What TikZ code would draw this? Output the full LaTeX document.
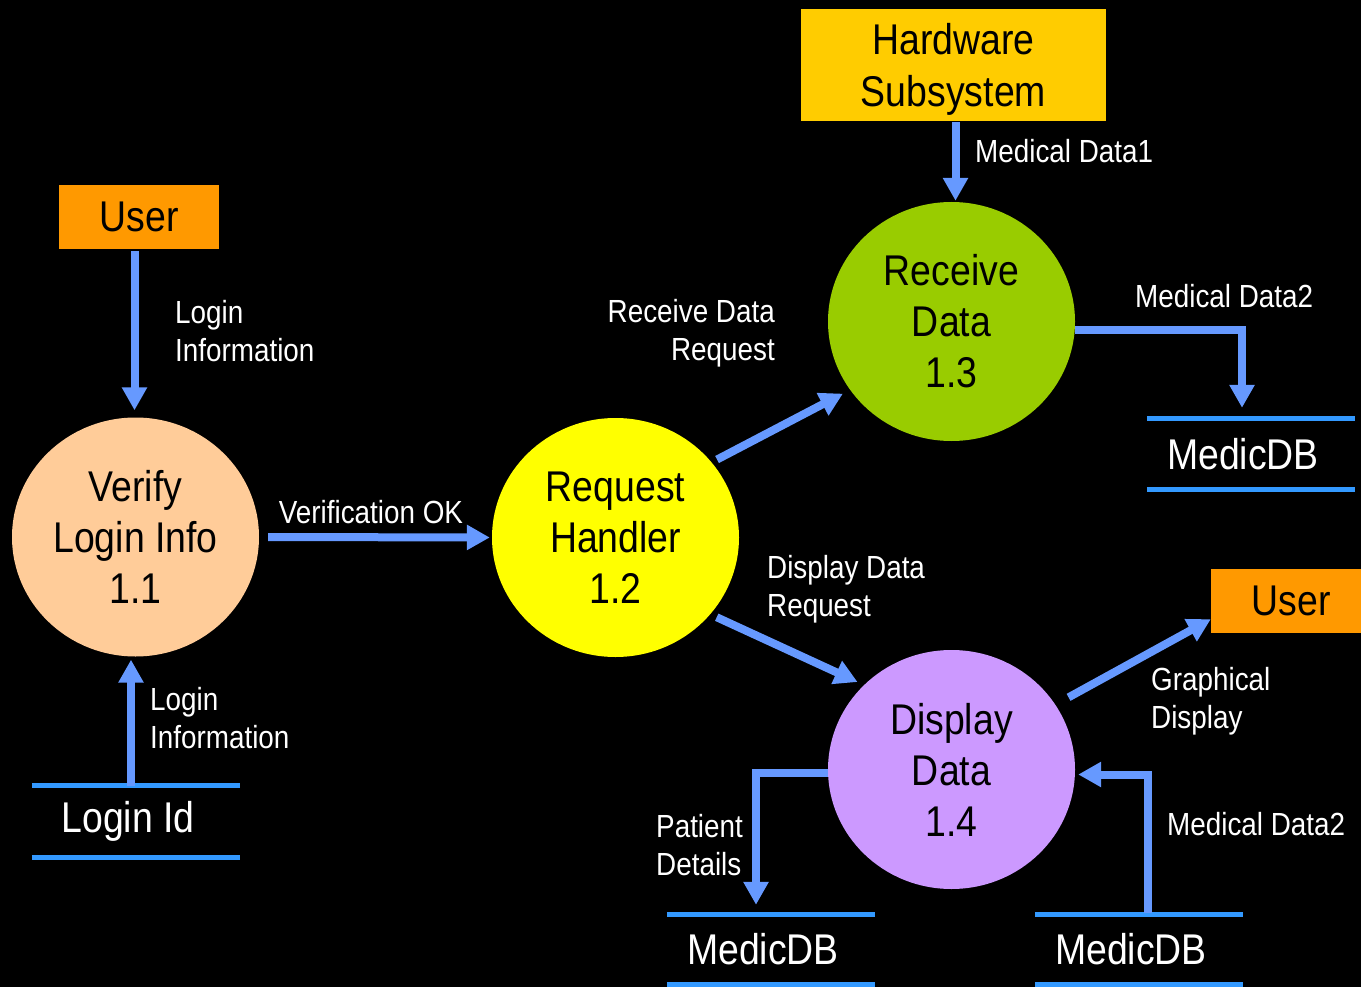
\documentclass[tikz,border=0pt]{standalone}
\usepackage{fontspec}
\setmainfont{Liberation Sans}[FakeStretch=0.87]
\usetikzlibrary{arrows.meta,shapes.geometric,calc}
\definecolor{flowblue}{HTML}{6699FF}
\definecolor{storeblue}{HTML}{3399FF}
\definecolor{peach}{HTML}{FFCC99}
\definecolor{lemon}{HTML}{FFFF00}
\definecolor{leaf}{HTML}{99CC00}
\definecolor{lilac}{HTML}{CC99FF}
\definecolor{extorange}{HTML}{FF9900}
\definecolor{extgold}{HTML}{FFCC00}
\begin{document}
\begin{tikzpicture}[x=1pt,y=-1pt,
  process/.style={ellipse,minimum width=247pt,minimum height=239pt,inner sep=0pt,
    align=center,text=black,font=\fontsize{43}{51}\selectfont},
  entity/.style={rectangle,inner sep=0pt,align=center,text=black,
    font=\fontsize{43}{52}\selectfont},
  store/.style={rectangle,inner sep=0pt,minimum width=208pt,text=white,
    font=\fontsize{43}{50}\selectfont,execute at end node={\hspace*{16pt}}},
  storeline/.style={draw=storeblue,line width=5pt},
  flow/.style={draw=flowblue,line width=8pt,-{Triangle[width=24pt,length=23pt]}},
  lbl/.style={inner sep=0pt,text=white,font=\fontsize{32}{38}\selectfont}]

% canvas
\fill[black] (0,0) rectangle (1361,987);
\useasboundingbox (0,0) rectangle (1361,987);

% external entities
\node[entity,fill=extorange,minimum width=160pt,minimum height=64pt] (user1) at (139,217) {User};
\node[entity,fill=extgold,minimum width=305pt,minimum height=112pt,text depth=0pt] (hw) at (953.5,65) {Hardware\\Subsystem};
\node[entity,fill=extorange,minimum width=160pt,minimum height=64pt] (user2) at (1291,601) {User};

% processes
\node[process,fill=peach] (v11) at (135.5,537) {Verify\\Login Info\\1.1};
\node[process,fill=lemon] (v12) at (615.5,537.5) {Request\\Handler\\1.2};
\node[process,fill=leaf] (v13) at (951.5,321.5) {Receive\\Data\\1.3};
\node[process,fill=lilac] (v14) at (951.5,769.5) {Display\\Data\\1.4};

% data stores
\node[store,minimum height=71pt] (loginid) at (136,821.5) {Login Id};
\node[store,minimum height=70pt] (db1) at (1251,454) {MedicDB};
\node[store,minimum height=69pt] (db2) at (771,949.5) {MedicDB};
\node[store,minimum height=69pt] (db3) at (1139,949.5) {MedicDB};
\foreach \s in {loginid,db1,db2,db3}{
  \draw[storeline] (\s.north west) -- (\s.north east);
  \draw[storeline] (\s.south west) -- (\s.south east);
}

% data flows
\draw[flow] ($(v11.north |- user1.south)+(-1,2)$) -- ($(v11.north)+(-1,-7)$);
\draw[flow] ($(loginid.north)+(-5,0)$) -- ($(loginid.north |- v11.south)+(-5,3)$);
\draw[flow] ($(v11.east)+(9,0)$) -- ($(v12.west)+(-2,0)$);
\draw[flow,shorten <=6pt,shorten >=8pt] (v12.38) -- (v13.214);
\draw[flow] ($(hw.south)+(2,1)$) -- ($(hw.south |- v13.north)+(2,-1)$);
\draw[flow] ($(v13.east)+(0,8)$) -| ($(db1.north)+(-9,-11)$);
\draw[flow,shorten <=7pt,shorten >=7pt] (v12.-39) -- (v14.136);
\draw[flow,shorten <=15pt] (v14.32) -- ($(user2.south west)+(0,-14)$);
\draw[flow] ($(v14.west)+(0,3)$) -| ($(db2.north)+(-15,-10)$);
\draw[flow] ($(db3.north)+(9,-2)$) |- ($(v14.east)+(3,5)$);

% flow labels
\node[lbl,anchor=west,align=left] (l1) at (175,331) {Login\\Information};
\node[lbl,anchor=west,align=left] (l2) at (150,718) {Login\\Information};
\node[lbl] (l3) at (371,512) {Verification OK};
\node[lbl,anchor=east,align=right] (l4) at (775,333) {Receive Data\\Request};
\node[lbl,anchor=west] (l5) at (975,151) {Medical Data1};
\node[lbl,anchor=west] (l6) at (1135,296) {Medical Data2};
\node[lbl,anchor=west,align=left] (l7) at (767,589) {Display Data\\Request};
\node[lbl,anchor=west,align=left] (l8) at (1151,701) {Graphical\\Display};
\node[lbl,anchor=west,align=left] (l9) at (656,845) {Patient\\Details};
\node[lbl,anchor=west] (l10) at (1167,824) {Medical Data2};
\end{tikzpicture}
\end{document}
